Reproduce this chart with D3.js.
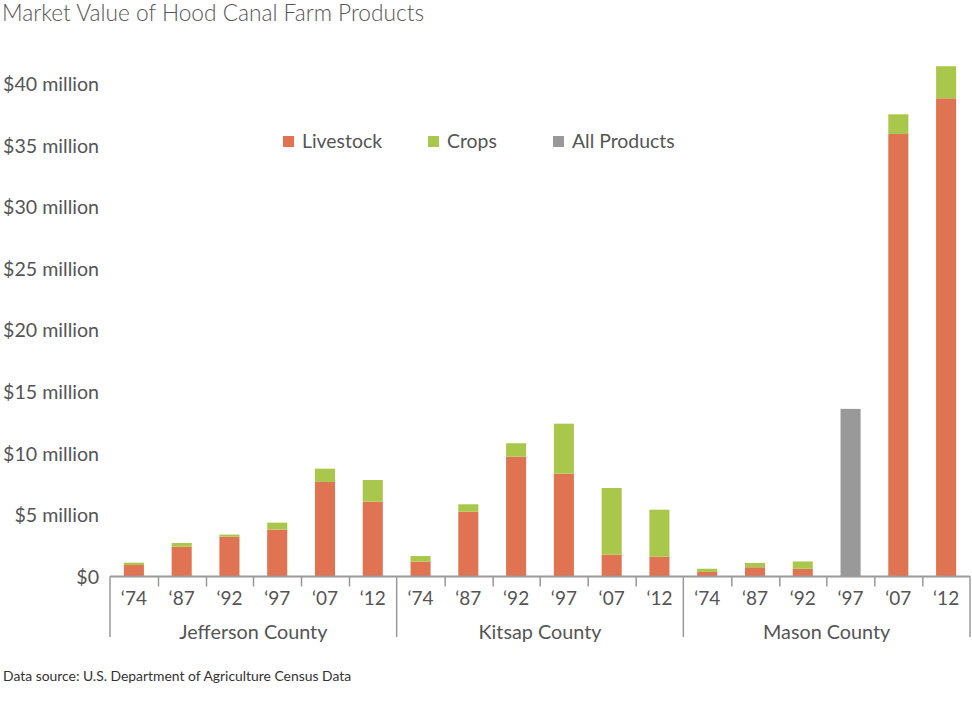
<!DOCTYPE html>
<html><head><meta charset="utf-8">
<script src="https://cdn.jsdelivr.net/npm/d3@7"></script>
<style>
body{margin:0;background:#fff;}
text{font-family:Lato,"Open Sans",sans-serif;}
</style></head>
<body><svg id="chart" width="972" height="704"></svg>
<script>
const counties = ["Jefferson County","Kitsap County","Mason County"];
const years = ["‘74","‘87","‘92","‘97","‘07","‘12"];
// values in millions of dollars; null = not reported separately
const livestock = [
  [0.93, 2.42, 3.23, 3.80, 7.67, 6.07],
  [1.20, 5.26, 9.72, 8.34, 1.77, 1.61],
  [0.37, 0.75, 0.63, null, 35.9, 38.8]
];
const crops = [
  [0.19, 0.30, 0.17, 0.57, 1.08, 1.76],
  [0.46, 0.60, 1.09, 4.06, 5.41, 3.81],
  [0.26, 0.35, 0.59, null, 1.6, 2.6]
];
const allProducts = [
  [null,null,null,null,null,null],
  [null,null,null,null,null,null],
  [null,null,null,13.6,null,null]
];
const yTicks = [0,5,10,15,20,25,30,35,40];
const seriesNames = ["Livestock","Crops","All Products"];
const colors = {"Livestock":"#e07352","Crops":"#a9c84b","All Products":"#999999"};

const svg = d3.select("#chart");
const left = 110, right = 970, bottom = 576.5;
const y = d3.scaleLinear().domain([0,40]).range([bottom, 83.5]);
const xG = d3.scaleBand().domain(counties).range([left,right]).padding(0);
const xY = d3.scaleBand().domain(years).range([0, xG.bandwidth()]).paddingInner(0.58).paddingOuter(0.29);

// title
svg.append("text").attr("x",2).attr("y",21).attr("font-size",22.7).attr("font-weight",300)
  .attr("fill","#555").text("Market Value of Hood Canal Farm Products");

// y axis labels
const yAxis = d3.axisLeft(y).tickValues(yTicks).tickSize(0).tickPadding(0)
  .tickFormat(d => d===0 ? "$0" : "$"+d+" million");
const ya = svg.append("g").attr("transform","translate(99,0)").call(yAxis);
ya.select(".domain").remove();
ya.selectAll("text").attr("font-size",19.6).attr("fill","#555").attr("font-family","Lato,sans-serif").attr("dy","0.35em");

// bars
counties.forEach((c,ci)=>{
  const g = svg.append("g").attr("transform",`translate(${xG(c)},0)`);
  years.forEach((yr,yi)=>{
    const ls = livestock[ci][yi], cr = crops[ci][yi], ap = allProducts[ci][yi];
    const x0 = xY(yr), w = xY.bandwidth();
    if(ls!=null){
      g.append("rect").attr("x",x0).attr("width",w).attr("y",y(ls)).attr("height",y(0)-y(ls)).attr("fill",colors["Livestock"]);
      if(cr!=null) g.append("rect").attr("x",x0).attr("width",w).attr("y",y(ls+cr)).attr("height",y(ls)-y(ls+cr)).attr("fill",colors["Crops"]);
    }
    if(ap!=null){
      g.append("rect").attr("x",x0).attr("width",w).attr("y",y(ap)).attr("height",y(0)-y(ap)).attr("fill",colors["All Products"]);
    }
    // year label
    g.append("text").attr("x",x0+w/2).attr("y",605).attr("text-anchor","middle")
      .attr("font-size",19).attr("fill","#555").text(yr);
    // minor tick at band start (not group edge)
    if(yi>0){
      const tx = Math.round(xY.step()*yi - 0)+0.5;
      g.append("line").attr("x1",tx).attr("x2",tx).attr("y1",bottom).attr("y2",bottom+10)
        .attr("stroke","#999").attr("stroke-width",1.5);
    }
  });
  g.append("text").attr("x",xG.bandwidth()/2).attr("y",639).attr("text-anchor","middle")
    .attr("font-size",19.8).attr("fill","#555").text(c);
});
// group dividers
const edges = counties.map(c=>xG(c)).concat([right]);
edges.forEach(e=>{
  svg.append("line").attr("x1",e).attr("x2",e).attr("y1",bottom).attr("y2",637)
    .attr("stroke","#999").attr("stroke-width",1.5);
});
// axis line
svg.append("line").attr("x1",left).attr("x2",right).attr("y1",bottom).attr("y2",bottom)
  .attr("stroke","#999").attr("stroke-width",2);

// legend
const legX = [283, 428, 553];
seriesNames.forEach((s,i)=>{
  svg.append("rect").attr("x",legX[i]).attr("y",136).attr("width",11).attr("height",11).attr("fill",colors[s]);
  svg.append("text").attr("x",legX[i]+19).attr("y",148).attr("font-size",19.4).attr("fill","#555").text(s);
});

// source
svg.append("text").attr("x",3).attr("y",681).attr("font-size",13.9).attr("fill","#333")
  .text("Data source: U.S. Department of Agriculture Census Data");
</script></body></html>
